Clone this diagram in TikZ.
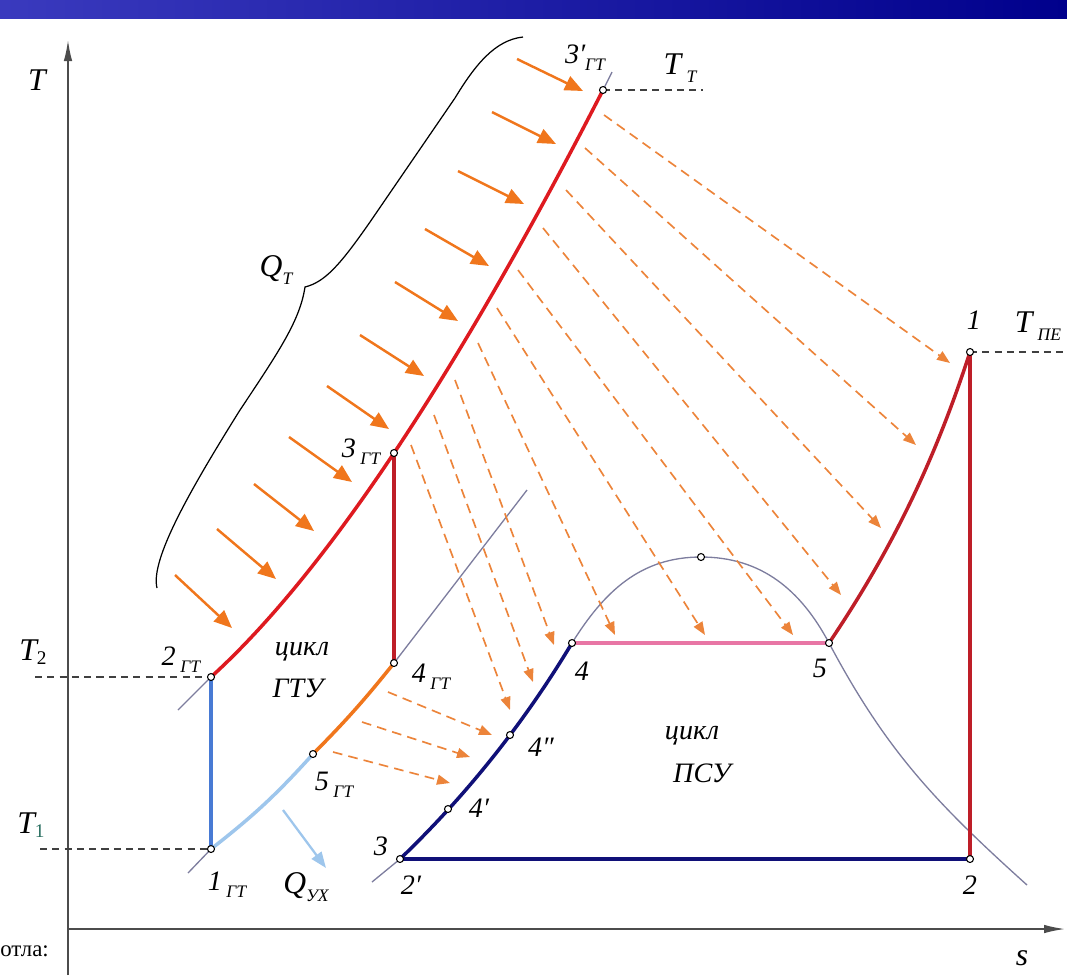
\documentclass[tikz,border=0pt]{standalone}
\usepackage{fontspec}
\setmainfont{Liberation Serif}
\usetikzlibrary{arrows.meta}

\definecolor{barl}{RGB}{58,58,190}
\definecolor{barr}{RGB}{0,0,140}
\definecolor{gasred}{RGB}{222,26,32}
\definecolor{darkred}{RGB}{190,30,40}
\definecolor{heat}{RGB}{240,118,28}
\definecolor{heatdash}{RGB}{236,132,58}
\definecolor{steamblue}{RGB}{16,16,120}
\definecolor{wetpink}{RGB}{232,118,165}
\definecolor{isobar}{RGB}{125,125,158}
\definecolor{compblue}{RGB}{72,122,212}
\definecolor{exhblue}{RGB}{158,198,236}
\definecolor{tealsub}{RGB}{40,110,95}

\newcommand{\gsub}[1]{\raisebox{-0.55ex}{\fontsize{10}{10}\selectfont\itshape #1}}
\newcommand{\nsub}[1]{\raisebox{-0.25ex}{\fontsize{11}{11}\selectfont\upshape #1}}

\begin{document}
\begin{tikzpicture}[x=0.02cm,y=-0.02cm,
  axis/.style={draw=black!70,line width=0.9pt,-{Latex[length=0.42cm,width=0.17cm]}},
  iso/.style={draw=isobar,line width=0.75pt},
  level/.style={draw=black!75,line width=0.8pt,dash pattern=on 4pt off 3pt},
  hotline/.style={draw=gasred,line width=2pt},
  turbline/.style={draw=darkred,line width=2pt},
  steamline/.style={draw=steamblue,line width=2pt},
  heatin/.style={draw=heat,line width=1.4pt,-{Triangle[length=0.36cm,width=0.3cm]}},
  heatdash/.style={draw=heatdash,line width=0.95pt,dash pattern=on 5.5pt off 3.5pt,
    -{Triangle[length=0.26cm,width=0.2cm]}},
  dot/.style={circle,draw=black,fill=white,line width=0.6pt,inner sep=0pt,minimum size=0.14cm},
  lbl/.style={font=\fontsize{16}{16}\selectfont\itshape,inner sep=0pt},
  biglbl/.style={font=\fontsize{18}{18}\selectfont\itshape,inner sep=0pt},
  cyc/.style={font=\fontsize{16}{16}\selectfont\itshape,inner sep=0pt}]

  \useasboundingbox (0,0) rectangle (1067,975);

  % slide heading bar
  \shade[left color=barl,right color=barr] (0,0) rectangle (1067,18);

  % axes T and s
  \draw[axis] (68,975) -- (68,40);
  \draw[axis] (68,929) -- (1065,929);
  \node[biglbl] (lT) at (37,80) {T};
  \node[biglbl] (ls) at (1022,958) {s};

  % gas turbine points
  \coordinate (g1) at (211,849);
  \coordinate (g2) at (211,677);
  \coordinate (g3) at (394,453);
  \coordinate (g3p) at (603,90);
  \coordinate (g4) at (394,663);
  \coordinate (g5) at (313,754);

  % steam cycle points
  \coordinate (s2p) at (400,859);
  \coordinate (s4a) at (448,809);
  \coordinate (s4b) at (510,735);
  \coordinate (s4) at (572,643);
  \coordinate (sk) at (701,557);
  \coordinate (s5) at (829,643);
  \coordinate (s1) at (970,352);
  \coordinate (s2) at (970,859);

  % isobars and the saturation dome
  \draw[iso] (178,710) -- (g2);
  \draw[iso] (g3p) -- (612,72);
  \draw[iso] (188,873) -- (g1);
  \draw[iso] (g4) -- (527,490);
  \draw[iso] (372,882) -- (s2p);
  \draw[iso] (s4) to[out=58,in=180] (sk) to[out=0,in=118] (s5)
    to[out=-62,in=138] (1027,885);

  % level lines
  \draw[level] (35,677) -- (g2);
  \draw[level] (40,849) -- (g1);
  \draw[level] (g3p) -- (703,90);
  \draw[level] (s1) -- (1067,352);

  % gas turbine cycle
  \draw[hotline] (g2) .. controls (324.3,574) and (455,378.3) .. (g3p);
  \draw[draw=compblue,line width=2pt] (g1) -- (g2);
  \draw[turbline] (g3) -- (g4);
  \draw[draw=heat,line width=2pt] (g5) to[bend right=3] (g4);
  \draw[draw=exhblue,line width=2pt] (g1) to[bend right=5] (g5);

  % steam cycle
  \draw[steamline] (s2p) .. controls (466.7,795) and (524,723) .. (s4);
  \draw[steamline] (s2p) -- (s2);
  \draw[draw=wetpink,line width=2pt] (s4) -- (s5);
  \draw[turbline] (s5) to[out=56,in=-108,looseness=0.9] (s1);
  \draw[turbline] (s1) -- (s2);

  % heat from the fuel
  \foreach \tx/\ty/\hx/\hy in {175/575/232/628, 217/529/276/579, 254/484/314/531,
      289/437/352/482, 327/386/389/429, 360/335/424/376, 395/282/458/321,
      425/229/489/266, 458/171/524/204, 492/112/556/144, 517/59/583/91}
    \draw[heatin] (\tx,\ty) -- (\hx,\hy);

  % heat passed to the steam
  \foreach \tx/\ty/\hx/\hy in {604/115/950/363, 585/148/916/445, 566/190/881/528,
      543/228/841/595, 518/270/793/635, 497/308/705/635, 478/343/615/635,
      455/380/554/645, 434/415/533/682, 411/445/510/710,
      388/692/492/735, 362/722/470/757, 333/752/450/783}
    \draw[heatdash] (\tx,\ty) -- (\hx,\hy);

  % exhaust heat
  \draw[draw=exhblue,line width=1.3pt,-{Triangle[length=0.32cm,width=0.24cm]}] (283,810) -- (326,868);

  % brace for Q_T
  \draw[line width=0.7pt] (157,588) .. controls (150,560) and (190,490) .. (240,410)
    .. controls (280,350) and (300,320) .. (305,287)
    .. controls (325,282) and (340,265) .. (370,222) -- (455,98)
    .. controls (475,65) and (495,40) .. (523,37);

  % points
  \foreach \p in {g1,g2,g3,g3p,g4,g5,s2p,s4a,s4b,s4,sk,s5,s1,s2}
    \node[dot] (d\p) at (\p) {};

  % labels
  \node[biglbl] (lT2) at (33,652) {T\nsub{2}};
  \node[biglbl] (lT1) at (31,825) {T\nsub{\color{tealsub}1}};
  \node[lbl] (l2gt) at (181,660) {2\,\gsub{ГТ}};
  \node[lbl] (l1gt) at (227,885) {1\,\gsub{ГТ}};
  \node[lbl] (l5gt) at (334,785) {5\,\gsub{ГТ}};
  \node[lbl] (l4gt) at (431,677) {4\,\gsub{ГТ}};
  \node[lbl] (l3gt) at (361,452) {3\,\gsub{ГТ}};
  \node[lbl] (l3pgt) at (585,58) {3′\gsub{ГТ}};
  \node[biglbl] (lTT) at (680,68) {T\,\gsub{Т}};
  \node[lbl] (l1) at (974,320) {1};
  \node[biglbl] (lTpe) at (1038,326) {T\,\gsub{ПЕ}};
  \node[lbl] (l4) at (582,671) {4};
  \node[lbl] (l5) at (820,668) {5};
  \node[lbl] (l4b) at (541,747) {4″};
  \node[lbl] (l4a) at (479,808) {4′};
  \node[lbl] (l3) at (381,846) {3};
  \node[lbl] (l2p) at (411,885) {2′};
  \node[lbl] (l2) at (970,885) {2};
  \node[biglbl] (lQT) at (276,270) {Q\gsub{Т}};
  \node[biglbl] (lQux) at (306,887) {Q\gsub{УХ}};
  \node[cyc] (lgtu1) at (302,652) {цикл};
  \node[cyc] (lgtu2) at (298,688) {ГТУ};
  \node[cyc] (lpsu1) at (692,736) {цикл};
  \node[cyc] (lpsu2) at (702,773) {ПСУ};
  \node[font=\fontsize{13}{13}\selectfont,inner sep=0pt,anchor=west] (lnote) at (0,951) {отла:};

\end{tikzpicture}
\end{document}
